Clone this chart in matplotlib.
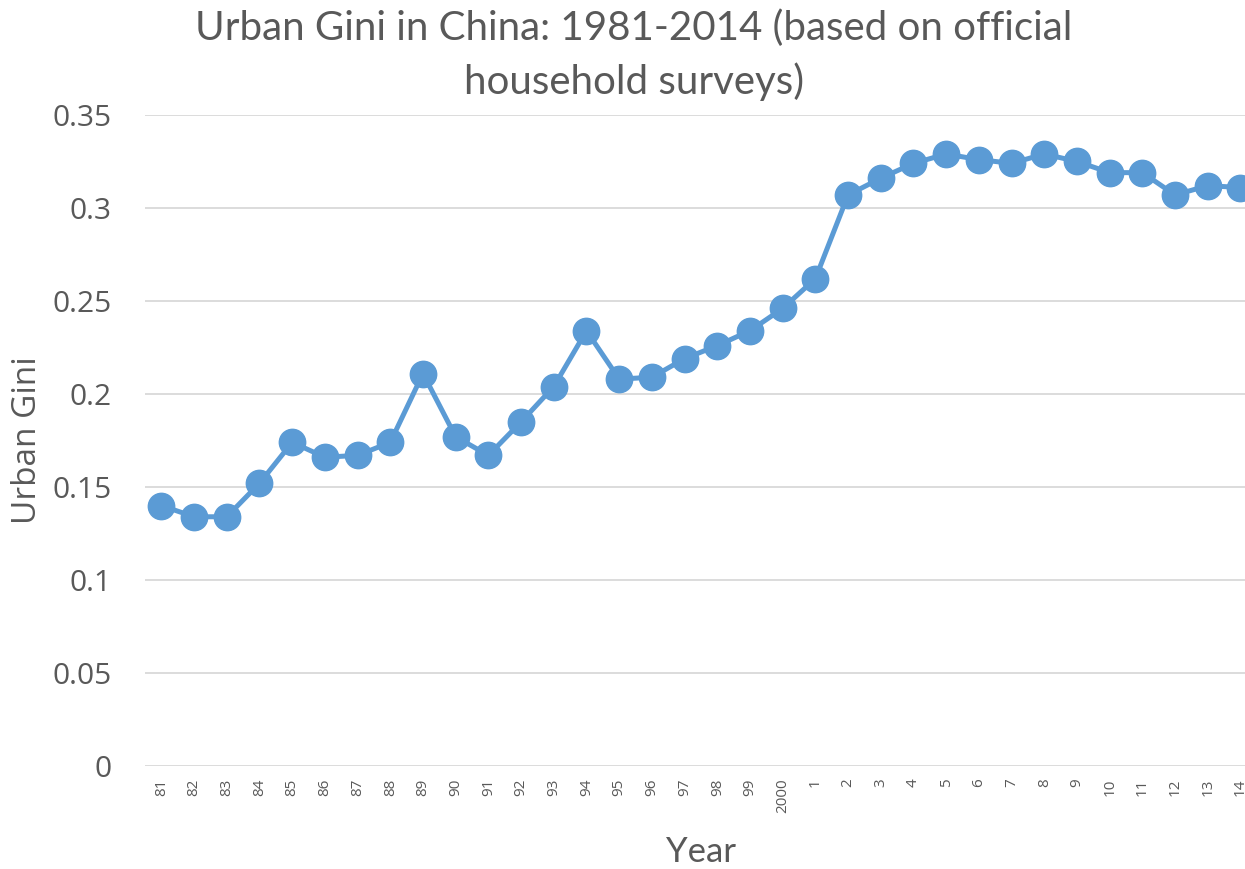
import numpy as np
import matplotlib.pyplot as plt

years = ['81', '82', '83', '84', '85', '86', '87', '88', '89', '90', '91', '92', '93', '94', '95', '96', '97',
         '98', '99', '2000', '1', '2', '3', '4', '5', '6', '7', '8', '9', '10', '11', '12', '13', '14']
gini = [0.140, 0.134, 0.134, 0.152, 0.174, 0.166, 0.167, 0.174, 0.211, 0.177, 0.167, 0.185, 0.204, 0.234,
        0.208, 0.209, 0.219, 0.226, 0.234, 0.246, 0.262, 0.307, 0.316, 0.324, 0.329, 0.326, 0.324, 0.329,
        0.325, 0.319, 0.319, 0.307, 0.312, 0.311]
yticks = [0, 0.05, 0.1, 0.15, 0.2, 0.25, 0.3, 0.35]
ytick_labels = ['0', '0.05', '0.1', '0.15', '0.2', '0.25', '0.3', '0.35']

txt = '#595959'
blue = '#5B9BD5'
grid = '#D9D9D9'

fig = plt.figure(figsize=(12.45, 8.69), dpi=100)
ax = fig.add_axes([0.1165, 0.1185, 0.893, 0.7492])
x = np.arange(len(years))
ax.plot(x, gini, color=blue, linewidth=3.6, marker='o', markersize=19, zorder=3)
ax.set_xlim(-0.5, len(years) - 0.5)
ax.set_ylim(0, 0.35)
ax.set_yticks(yticks)
ax.set_yticklabels(ytick_labels, fontfamily='Open Sans', fontsize=21.5, color=txt)
ax.set_xticks(x)
ax.set_xticklabels(years, rotation=90, fontfamily='Open Sans', fontsize=11, color=txt)
ax.tick_params(axis='x', length=0, pad=9)
ax.tick_params(axis='y', length=0, pad=24)
ax.grid(axis='y', color=grid, linewidth=1.3)
ax.set_axisbelow(True)
for s in ax.spines.values():
    s.set_visible(False)

fig.text(0.509, 0.967, 'Urban Gini in China: 1981-2014 (based on official', ha='center', va='center',
         fontfamily='Lato', fontsize=29, color=txt)
fig.text(0.509, 0.906, 'household surveys)', ha='center', va='center',
         fontfamily='Lato', fontsize=29, color=txt)
fig.text(0.563, 0.02, 'Year', ha='center', va='center', fontfamily='Lato', fontsize=25, color=txt)
fig.text(0.022, 0.493, 'Urban Gini', ha='center', va='center', rotation=90, fontfamily='Open Sans',
         fontsize=24, color=txt)

fig.savefig('out.png', dpi=100)
